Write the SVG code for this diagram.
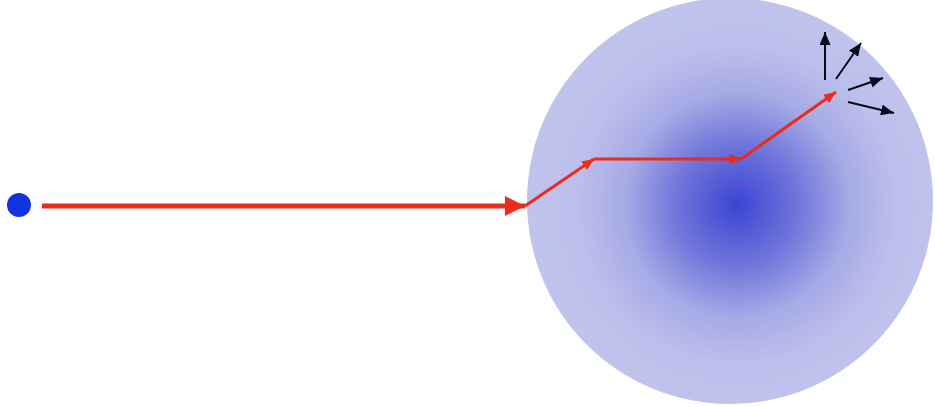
<svg xmlns="http://www.w3.org/2000/svg" width="935" height="407" viewBox="0 0 935 407">
<defs>
<radialGradient id="g" cx="737" cy="205" r="205" fx="737" fy="205" gradientUnits="userSpaceOnUse">
<stop offset="0" stop-color="#3c44d4"/>
<stop offset="0.3" stop-color="#7076da"/>
<stop offset="0.55" stop-color="#a6aae6"/>
<stop offset="0.78" stop-color="#bcbfeb"/>
<stop offset="1" stop-color="#c0c3ec"/>
</radialGradient>
<marker id="rb" markerWidth="4" markerHeight="4" refX="4" refY="2" orient="auto" markerUnits="strokeWidth"><path d="M0,0 L4,2 L0,4 z" fill="#ee2a1a"/></marker>
<marker id="rs" markerWidth="4" markerHeight="3.4" refX="4" refY="1.7" orient="auto" markerUnits="strokeWidth"><path d="M0,0 L4,1.7 L0,3.4 z" fill="#ee2a1a"/></marker>
<marker id="bk" markerWidth="6.5" markerHeight="5.5" refX="6.5" refY="2.75" orient="auto" markerUnits="strokeWidth"><path d="M0,0 L6.5,2.75 L0,5.5 z" fill="#0a0a1e"/></marker>
</defs>
<style>
.r{stroke:#ee2a1a;fill:none;stroke-linejoin:round}
.k{stroke:#0a0a1e;stroke-width:2;fill:none}
</style>
<g id="cloud"><circle cx="730" cy="201" r="203" fill="url(#g)"/></g>
<g id="source"><circle cx="19" cy="205" r="12" fill="#1234e0"/></g>
<g id="connectors">
<line class="r" x1="42" y1="206" x2="525" y2="206" stroke-width="5" marker-end="url(#rb)"/>
<line class="r" x1="525" y1="206" x2="594" y2="159" stroke-width="3" marker-end="url(#rs)"/>
<line class="r" x1="594" y1="159" x2="741" y2="159" stroke-width="3" marker-end="url(#rs)"/>
<line class="r" x1="741" y1="159" x2="836" y2="92" stroke-width="3" marker-end="url(#rs)"/>
<line class="k" x1="825" y1="80" x2="825" y2="32" marker-end="url(#bk)"/>
<line class="k" x1="836" y1="79" x2="861" y2="43" marker-end="url(#bk)"/>
<line class="k" x1="848" y1="90" x2="883" y2="78" marker-end="url(#bk)"/>
<line class="k" x1="848" y1="102" x2="894" y2="113" marker-end="url(#bk)"/>
</g>
</svg>
